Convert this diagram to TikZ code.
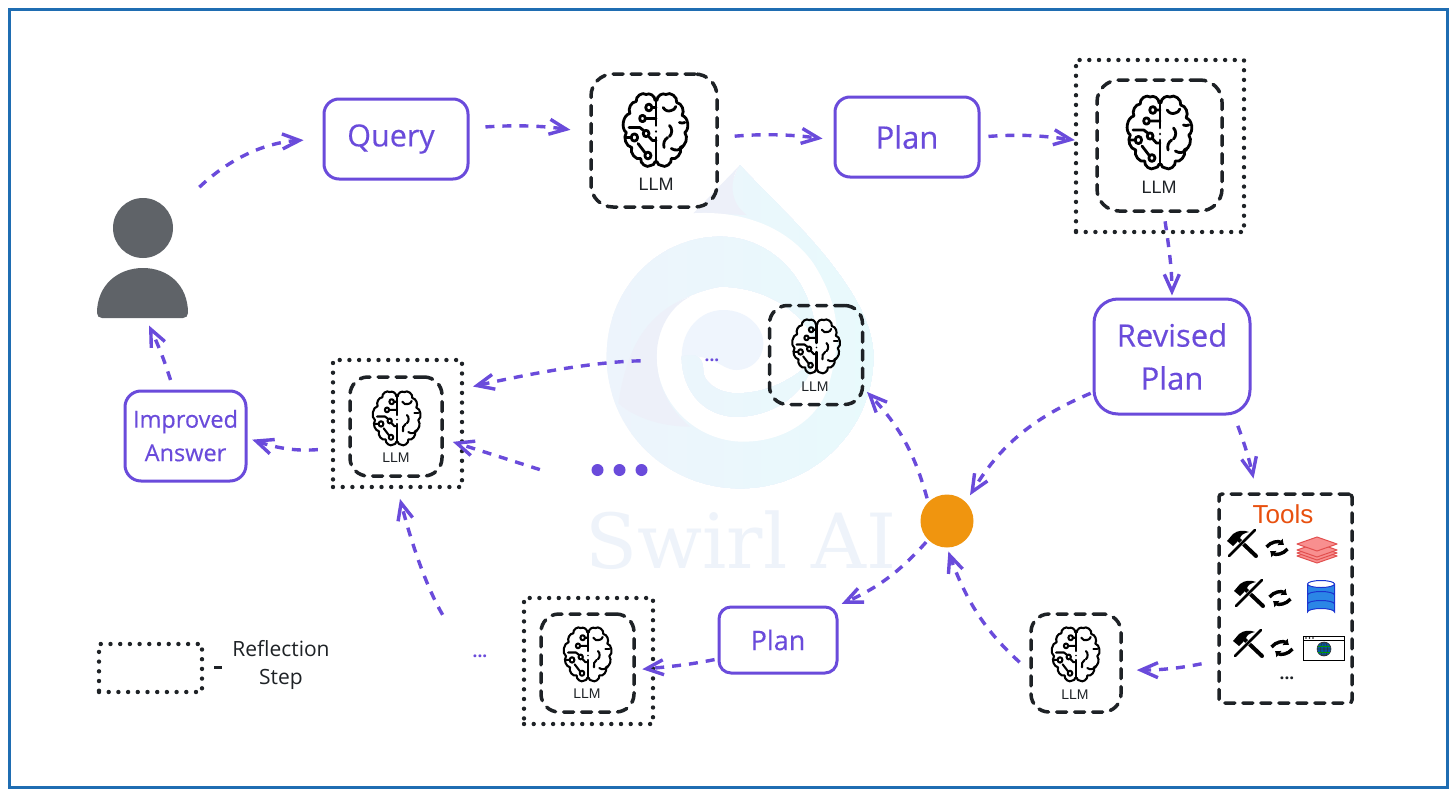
\documentclass[tikz,border=0pt]{standalone}
\usepackage{fontspec}
\setmainfont{Open Sans}
\newfontfamily\boxfont[FakeBold=0.35]{Open Sans}
\newfontfamily\helv{Liberation Sans}
\newfontfamily\wmfont{DejaVu Serif}
\usetikzlibrary{arrows.meta,shapes.geometric}
\definecolor{pur}{HTML}{6A4BDB}
\definecolor{ink}{HTML}{1E2226}
\definecolor{frameblue}{HTML}{1F6DB2}
\definecolor{usergrey}{HTML}{5F6368}
\definecolor{wmleft}{HTML}{EDF4FC}
\definecolor{wmright}{HTML}{E8FAFC}
\definecolor{wmpale}{HTML}{EFF5FD}
\definecolor{wmlav}{HTML}{EDF0F9}
\definecolor{wmtext}{HTML}{EEF3FA}
\definecolor{orangedot}{HTML}{F0950F}
\definecolor{toolorange}{HTML}{E8500F}
\definecolor{layerfill}{HTML}{F88F8F}
\definecolor{layerline}{HTML}{E2504F}
\definecolor{dbfill}{HTML}{2B86E6}
\definecolor{dbline}{HTML}{1B35D0}
\tikzset{
  pbox/.style={draw=pur,line width=3pt,rounded corners=15pt,fill=white,align=center,text=pur,inner sep=0pt},
  llmbox/.style={draw=ink,line width=3.5pt,line cap=round,rounded corners=22pt,dash pattern=on 10pt off 8pt,inner sep=0pt},
  dotbox/.style={draw=ink,line width=4.4pt,line cap=round,dash pattern=on 0pt off 9.7pt,inner sep=0pt},
  flow/.style={draw=pur,line width=3.4pt,dash pattern=on 9pt off 8pt,-{Straight Barb[length=17pt,width=15pt,line width=3.4pt]}},
  llmlabel/.style={text=ink,inner sep=0pt},
  bline/.style={draw=black,line cap=round,line join=round},
}
% left-to-right tint laid in strips inside the current clip
\newcommand{\wmstrips}{%
  \foreach \i in {0,...,15}{
    \pgfmathsetmacro{\pp}{\i/15*100}
    \fill[wmright!\pp!wmleft] ({100+\i*56},0) rectangle (1000,1020);
  }}
% brain icon
\newcommand{\brainicon}[3]{%
\begin{scope}[shift={(#1,#2)},xscale=0.9*#3,yscale=#3,x=1pt,y=-1pt,line width=#3*2.8pt]
  \draw[bline] (1,-29) to[bend left=60] (11,-35) to[bend left=70] (23,-27) to[bend left=60] (29,-14)
     to[bend left=70] (32,3) to[bend left=60] (27,18) to[bend left=70] (17,29) to[bend left=70] (6,36) to[bend left=40] (1,32);
  \draw[bline] (-1,-29) to[bend right=60] (-11,-35) to[bend right=70] (-22,-28) to[bend right=60] (-29,-16)
     to[bend right=70] (-33,3) to[bend right=60] (-27,18) to[bend right=70] (-17,29) to[bend right=70] (-6,36) to[bend right=40] (-1,32);
  \draw[bline] (0,-30) -- (0,-4) (0,8) -- (0,33);
  \fill (0,2) circle[radius=1.3];
  % circuits, left
  \draw[bline] (-8,-22) circle[radius=3.4] (-4.6,-22) -- (0,-22);
  \draw[bline] (-15,-11) circle[radius=3.2] (-12,-11) -- (0,-11);
  \draw[bline] (-24,8) circle[radius=3.6] (-33,8) -- (-27.6,8);
  \draw[bline] (-11,4) circle[radius=3.2] (-13,1.5) -- (-18,-2) -- (-30,-2);
  \draw[bline] (-9,26) circle[radius=3.4] (-8,7) -- (-4,11) -- (0,11);
  \draw[bline] (-11.5,24) -- (-20,14);
  % squiggles, right
  \draw[bline] (8,-22) to[bend right=40] (17,-19) to[bend right=30] (22,-23);
  \draw[bline] (15,-4) to[bend left=50] (15,7);
  \draw[bline] (26,-7) to[bend right=20] (32,-7);
  \draw[bline] (9,18) to[bend left=40] (13,8);
  \draw[bline] (17,19) to[bend right=40] (30,17);
\end{scope}}
% tool icon
\newcommand{\toolicon}[2]{%
\begin{scope}[shift={(#1,#2)},x=1pt,y=-1pt]
  \draw[black,line width=4pt,line cap=round] (-5,-5) -- (14,13);
  \draw[white,line width=3.6pt] (-4,4) -- (5,-5);
  \draw[black,line width=2.6pt,line cap=round] (-13,13) -- (13,-13);
  \fill[black] (-15,-2) -- (-9,-9) .. controls (-4,-13) and (2,-13) .. (7,-11) .. controls (2,-10) and (-1,-8) .. (-2,-5) -- (-5,-1) -- (-9,3) -- cycle;
\end{scope}}
\newcommand{\syncicon}[2]{%
\begin{scope}[shift={(#1,#2)},x=1pt,y=-1pt]
  \draw[black,line width=3.4pt,-{Latex[length=5pt,width=9pt]}] (-10.5,-1) to[bend left=45] (7,-3);
  \draw[black,line width=3.4pt,-{Latex[length=5pt,width=9pt]}] (10.5,1) to[bend left=45] (-7,3);
\end{scope}}
\begin{document}
\begin{tikzpicture}[x=1pt,y=-1pt]
\useasboundingbox (0,0) rectangle (1456,795);
\fill[white] (0,0) rectangle (1456,795);
\draw[frameblue,line width=3pt] (9,9) rectangle (1447,787);

% watermark
\begin{scope}[shift={(560,160)},x=0.33333pt,y=-0.33333pt]
  \begin{scope}
  \clip (540,15) .. controls (640,130) and (940,380) .. (940,590)
     .. controls (940,810) and (760,985) .. (540,985)
     .. controls (320,985) and (140,810) .. (140,590)
     .. controls (140,380) and (300,230) .. (480,230)
     .. controls (500,180) and (500,90) .. cycle;
  \wmstrips
  \end{scope}
  \fill[wmlav] (400,160) -- (540,15) .. controls (505,60) and (510,130) .. (560,165) -- cycle;
  \fill[white] (290,590) .. controls (290,730) and (410,845) .. (550,845)
     .. controls (690,845) and (790,760) .. (810,660)
     .. controls (850,520) and (830,420) .. (760,310)
     .. controls (690,210) and (560,150) .. (400,160)
     .. controls (330,190) and (290,400) .. (290,590) -- cycle;
  \begin{scope}
  \clip (140,590) .. controls (140,380) and (300,230) .. (480,230)
     .. controls (640,230) and (770,370) .. (770,560)
     .. controls (740,460) and (620,380) .. (480,380)
     .. controls (420,390) and (250,440) .. (210,600) .. controls (195,650) and (180,700) .. (175,730)
     .. controls (150,690) and (140,640) .. (140,590) -- cycle;
  \wmstrips
  \end{scope}
  \fill[wmlav] (175,730) .. controls (190,640) and (220,470) .. (390,410)
     .. controls (330,440) and (290,510) .. (290,590)
     .. controls (290,680) and (330,750) .. (390,800)
     .. controls (300,800) and (220,770) .. (175,730) -- cycle;
  \fill[wmpale] (365,590) .. controls (365,510) and (420,450) .. (490,450)
     .. controls (560,450) and (610,500) .. (610,550)
     .. controls (610,600) and (570,630) .. (530,630)
     .. controls (480,630) and (470,580) .. (365,590) -- cycle;
  \begin{scope}
  \clip (365,590) .. controls (420,575) and (430,600) .. (430,640)
     .. controls (440,680) and (490,700) .. (530,700)
     .. controls (620,700) and (700,660) .. (760,600)
     .. controls (740,700) and (640,770) .. (530,770)
     .. controls (430,770) and (365,690) .. (365,590) -- cycle;
  \wmstrips
  \end{scope}
\end{scope}
\node[font=\wmfont,text=wmtext] (wm) at (741,540) {\fontsize{76}{76}\selectfont Swirl AI};

% person
\node[minimum width=92pt,minimum height=122pt,inner sep=0pt] (user) at (143,258) {};
\fill[usergrey] (143,228) circle[radius=30];
\fill[usergrey] (97,313) .. controls (97,285) and (118,268) .. (143,268) .. controls (168,268) and (188,285) .. (188,313)
   .. controls (188,316) and (186,318) .. (183,318) -- (102,318) .. controls (99,318) and (97,316) .. (97,313) -- cycle;

% purple boxes
\node[pbox,minimum width=144pt,minimum height=80pt,font=\boxfont\fontsize{30.5}{32}\selectfont] (query) at (396,139) {\hspace*{-10pt}\raisebox{-2pt}{Query}};
\node[pbox,minimum width=144pt,minimum height=80pt,font=\boxfont\fontsize{31}{32}\selectfont] (plana) at (907,137) {Plan};
\node[pbox,minimum width=156pt,minimum height=115pt,rounded corners=24pt,font=\boxfont\fontsize{31}{43}\selectfont] (revised) at (1172,356.5) {Revised\\Plan};
\node[pbox,minimum width=118pt,minimum height=66pt,rounded corners=12pt,font=\boxfont\fontsize{27}{28}\selectfont] (planb) at (778,640) {Plan};
\node[pbox,minimum width=121pt,minimum height=90pt,rounded corners=16pt,font=\boxfont\fontsize{23.5}{33}\selectfont] (improved) at (185.5,436) {\raisebox{1.5pt}{Improved}\\\raisebox{1pt}{Answer}};

% LLM boxes
\node[llmbox,minimum width=126pt,minimum height=133pt] (llma) at (654,140.5) {};
\brainicon{656}{129.5}{1}
\node[llmlabel,font=\helv\fontsize{18}{20}\selectfont] (la) at (656,184) {LLM};

\node[dotbox,minimum width=168pt,minimum height=172pt] (outerb) at (1160,146) {};
\node[llmbox,minimum width=125pt,minimum height=131pt] (llmb) at (1159.5,145.5) {};
\brainicon{1160}{132}{1}
\node[llmlabel,font=\helv\fontsize{18}{20}\selectfont] (lb) at (1159,187) {LLM};

\node[llmbox,rounded corners=18pt,minimum width=93pt,minimum height=99pt] (llmc) at (816,355) {};
\brainicon{816.5}{346}{0.74}
\node[llmlabel,font=\helv\fontsize{14}{16}\selectfont] (lc) at (815,387) {LLM};

\node[dotbox,minimum width=129pt,minimum height=127pt] (outerd) at (397.5,423.5) {};
\node[llmbox,rounded corners=18pt,minimum width=92pt,minimum height=99pt] (llmd) at (396,426.5) {};
\brainicon{397}{418}{0.74}
\node[llmlabel,font=\helv\fontsize{14}{16}\selectfont] (ld) at (396,458) {LLM};

\node[dotbox,minimum width=129pt,minimum height=126pt] (outere) at (588.5,661) {};
\node[llmbox,rounded corners=18pt,minimum width=93pt,minimum height=98pt] (llme) at (587.5,663) {};
\brainicon{588}{654}{0.74}
\node[llmlabel,font=\helv\fontsize{14}{16}\selectfont] (le) at (587,694) {LLM};

\node[llmbox,rounded corners=18pt,minimum width=90pt,minimum height=98pt] (llmf) at (1076,663) {};
\brainicon{1076}{654}{0.74}
\node[llmlabel,font=\helv\fontsize{14}{16}\selectfont] (lf) at (1075,695) {LLM};

% orange circle
\node[circle,fill=orangedot,minimum size=53pt,inner sep=0pt] (hub) at (947,521) {};

% dots
\node[text=pur,font=\bfseries\fontsize{17}{17}\selectfont,inner sep=0pt] (dotsa) at (712,360) {...};
\node[text=pur,font=\bfseries\fontsize{17}{17}\selectfont,inner sep=0pt] (dotsc) at (480,656) {...};
\node[circle,fill=pur,minimum size=12pt,inner sep=0pt] (bd1) at (597.5,470) {};
\node[circle,fill=pur,minimum size=12pt,inner sep=0pt] (bd2) at (619.5,470) {};
\node[circle,fill=pur,minimum size=12pt,inner sep=0pt] (bd3) at (641.5,470) {};

% tools box
\node[draw=ink,line width=3.5pt,line cap=round,rounded corners=3pt,dash pattern=on 10pt off 8pt,minimum width=133pt,minimum height=209pt,inner sep=0pt] (tools) at (1285.5,598.5) {};
\node[font=\helv\fontsize{26}{28}\selectfont,text=toolorange,inner sep=0pt] (toolslabel) at (1283,514) {Tools};
\toolicon{1242}{543}
\toolicon{1249}{593}
\toolicon{1248}{643}
\syncicon{1277}{548}
\syncicon{1280}{598}
\syncicon{1282}{648}
% layers
\begin{scope}[shift={(1317,547)},x=1pt,y=-1pt]
  \foreach \dy in {9,6,3,-3}{
    \draw[layerline,fill=layerfill,line width=1pt,line join=round] (-20,\dy) -- (0,{\dy-7}) -- (20,\dy) -- (0,{\dy+7}) -- cycle;
  }
\end{scope}
% database
\begin{scope}[shift={(1321,598)},x=1pt,y=-1pt]
  \draw[dbline,fill=dbfill,line width=1pt] (-13.5,-14) -- (-13.5,14) arc[start angle=180,end angle=360,x radius=13.5,y radius=3.5] -- (13.5,-14);
  \draw[dbline,fill=white,line width=1pt] (0,-14) ellipse[x radius=13.5,y radius=3.5];
  \draw[dbline,line width=1pt] (-13.5,-3) arc[start angle=180,end angle=360,x radius=13.5,y radius=3.5];
  \draw[dbline,line width=1pt] (-13.5,6) arc[start angle=180,end angle=360,x radius=13.5,y radius=3.5];
\end{scope}
% browser
\begin{scope}[shift={(1324,648)},x=1pt,y=-1pt]
  \draw[black,fill=white,line width=1pt] (-20.5,-12) rectangle (20.5,12);
  \draw[black,line width=1pt] (-20.5,-8) -- (20.5,-8);
  \fill[black] (-18,-10) circle[radius=0.9] (-14.5,-10) circle[radius=0.9] (-11,-10) circle[radius=0.9];
  \fill[teal!70!blue] (0,1) circle[radius=7];
  \draw[black!80,line width=0.6pt] (0,1) circle[radius=7] (-7,1) -- (7,1) (0,-6) -- (0,8) (0,1) ellipse[x radius=3.5,y radius=7];
  \draw[green!60!black,line width=0.7pt] (-6,-2) -- (6,-2) (-6,4) -- (6,4);
\end{scope}
\node[font=\bfseries\fontsize{17}{17}\selectfont,text=ink,inner sep=0pt] (toolsdots) at (1287,678) {...};

% legend
\node[draw=ink,line width=4.4pt,line cap=round,dash pattern=on 0pt off 9.7pt,inner sep=0pt,minimum width=103pt,minimum height=48pt] (legend) at (150.5,668) {};
\draw[ink,line width=3pt] (214,667) -- (222,667);
\node[font=\fontsize{21}{28}\selectfont,text=ink,align=center,inner sep=0pt] (legtext) at (281,665) {Reflection\\Step};

% connectors
\draw[flow,shorten <=14pt,shorten >=19pt] (user.north east) to[bend left=20] (query.west);
\draw[flow,shorten <=16pt,shorten >=19pt] ([yshift=11pt]query.east) to[bend left=6] ([yshift=8pt]llma.west);
\draw[flow,shorten <=16pt,shorten >=11pt] ([yshift=3pt]llma.east) to[bend left=6] ([yshift=-3pt]plana.west);
\draw[flow,shorten <=8pt,shorten >=-1pt] (plana.east) to[bend left=6] ([yshift=6pt]outerb.west);
\draw[flow,shorten <=-13pt,shorten >=2pt] (outerb.south) ++(7,0) to[bend left=4] (revised.north);
\draw[flow,shorten <=2pt,shorten >=8pt] ([yshift=-36pt]revised.west) to[bend right=18] (hub.north east);
\draw[flow,shorten <=11pt,shorten >=14pt] ([xshift=62pt]revised.south) to[bend left=4] ([xshift=-29pt]tools.north);
\draw[flow,shorten <=16pt,shorten >=14pt] ([yshift=-62pt]tools.west) to[bend left=6] ([yshift=-7pt]llmf.east);
\draw[flow,shorten <=13pt,shorten >=4pt] ([yshift=-8pt]llmf.west) to[bend left=14] (hub.south);
\draw[flow,shorten <=3pt,shorten >=4pt] (hub.south west) to[bend left=12] ([xshift=60pt]planb.north);
\draw[flow,shorten <=3pt,shorten >=-13pt] ([yshift=-19pt]planb.west) to[bend left=3] ([yshift=-7pt]outere.east);
\draw[flow,shorten <=4pt,shorten >=4pt] (hub.north west) to[bend right=14] ([yshift=-34pt]llmc.east);
\draw[flow,shorten <=64pt,shorten >=9pt] (dotsa.west) to[bend right=6] ([yshift=35pt]outerd.east);
\draw[flow,shorten <=54pt,shorten >=-12pt] ([yshift=-16pt]bd1.west) -- ([yshift=-22pt]outerd.east);
\draw[flow,shorten <=46pt,shorten >=10pt] ([xshift=-14pt]dotsc.north) to[bend left=8] (outerd.south);
\draw[flow,shorten <=13pt,shorten >=5pt] ([yshift=-25pt]outerd.west) to[bend left=12] ([yshift=-2pt]improved.east);
\draw[flow,shorten <=10pt,shorten >=7pt] ([xshift=-12pt]improved.north) to[bend right=4] ([xshift=3pt]user.south);
\end{tikzpicture}
\end{document}
